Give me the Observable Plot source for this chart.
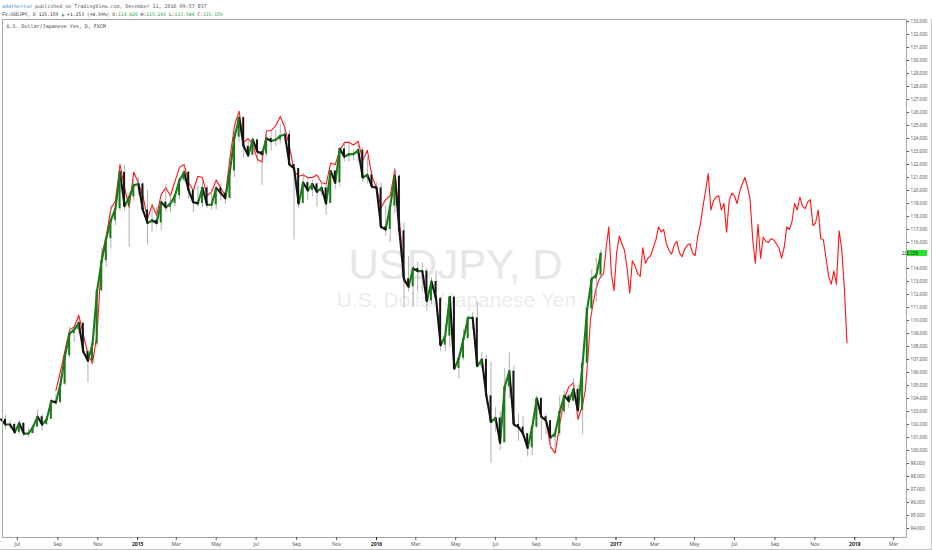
<!DOCTYPE html>
<html><head><meta charset="utf-8">
<script src="https://cdn.jsdelivr.net/npm/d3@7"></script>
<script src="https://cdn.jsdelivr.net/npm/@observablehq/plot@0.6"></script>
<style>
body{margin:0;background:#fff;}
#wrap{position:relative;width:932px;height:550px;overflow:hidden;background:#fff;}
#wrap svg{display:block;}
#outer{position:absolute;left:0;top:19px;width:931px;height:530px;border-right:1px solid #c4c4c4;border-bottom:1px solid #c4c4c4;pointer-events:none;}
</style></head><body><div id="wrap"><div id="outer"></div></div>
<script>
// ---------- DATA ----------
// weekly USD/JPY candles, week ending Friday, first week ending 2014-06-13
const candleFirstWeek = "2014-06-13";
const candleFirstOpen = 102.4;
const candleClose = [
102.0,102.0,101.4,102.1,101.3,101.3,101.8,102.6,102.0,102.4,103.8,103.7,105.1,107.3,109.0,109.3,109.8,107.6,106.9,108.2,112.3,114.6,116.3,117.7,118.6,121.4,118.8,119.5,120.4,
120.5,118.5,117.5,117.7,117.5,119.1,118.7,119.0,119.6,120.8,121.4,120.0,119.1,119.0,120.2,118.9,118.9,120.2,119.8,119.4,121.5,124.1,125.6,123.4,122.7,123.9,123.0,122.8,124.0,123.8,123.9,124.2,124.3,122.0,121.7,119.0,120.6,120.0,120.5,119.9,120.2,119.0,121.5,120.6,123.2,122.6,122.8,122.8,123.1,121.0,121.2,120.3,
120.2,117.2,117.0,118.8,121.1,116.9,113.2,112.6,114.0,113.8,113.8,111.5,113.0,111.7,108.1,108.8,111.8,106.3,107.1,108.6,110.2,110.2,106.5,107.0,104.2,102.2,102.5,100.6,104.9,106.1,102.0,101.8,101.3,100.2,101.8,104.0,102.6,102.3,101.0,101.3,103.0,104.2,103.8,104.7,103.1,106.7,110.9,113.2,113.5,115.159];
const candleHigh = [
102.7,102.3,102.1,102.3,102.0,101.7,102.0,103.1,102.8,102.6,104.0,104.3,105.7,107.4,109.5,109.5,110.1,109.2,107.9,108.4,112.5,115.6,116.8,118.9,118.8,121.7,121.9,119.8,120.8,
121.0,120.6,120.0,118.9,118.7,119.2,120.5,119.7,119.7,120.9,122.0,121.5,120.1,120.4,120.8,120.4,120.1,120.3,120.5,120.0,121.8,124.5,125.9,125.7,124.0,124.1,123.7,123.0,124.5,124.5,124.6,125.1,125.3,124.6,122.0,121.7,121.3,120.9,120.8,120.6,120.6,120.4,121.5,121.5,123.3,123.6,123.8,123.1,123.7,123.3,122.6,121.5,
120.6,120.6,118.8,118.9,121.7,121.2,117.5,114.9,114.2,114.5,114.4,114.0,113.3,113.8,111.8,109.7,111.9,111.9,107.5,109.3,110.4,110.6,111.4,107.5,107.3,106.8,103.3,103.0,106.3,107.5,106.5,102.8,102.6,101.3,102.0,104.2,104.1,102.8,102.3,101.7,104.2,104.6,104.4,105.5,105.0,106.9,111.0,113.9,114.8,115.4];
const candleLow = [
101.6,101.6,101.3,101.2,101.1,101.0,101.3,101.8,101.5,101.9,102.4,103.5,103.6,105.0,107.1,108.3,108.9,107.5,105.2,106.6,107.9,112.2,114.1,115.5,117.3,118.4,118.4,115.6,119.2,
119.6,118.2,115.8,116.8,117.2,116.9,118.3,118.3,118.7,119.3,120.6,119.3,118.3,118.7,118.7,118.6,118.5,118.5,119.2,118.9,119.3,121.0,123.7,122.5,122.5,122.7,122.1,120.4,122.6,123.0,123.4,123.6,123.8,121.9,116.2,118.6,119.0,119.2,119.5,118.7,119.6,118.1,119.1,120.1,120.3,122.2,122.2,122.3,122.2,120.6,120.5,120.1,
120.0,117.0,116.5,116.0,118.2,116.5,111.0,112.2,111.0,112.2,112.2,110.7,111.2,111.4,107.6,107.6,107.9,106.2,105.5,106.9,108.7,109.3,106.4,106.3,103.6,99.0,101.4,100.0,100.6,104.0,101.9,100.7,101.0,99.5,99.6,101.7,100.8,101.2,100.1,100.1,101.1,102.8,103.2,103.7,102.6,101.2,106.4,110.5,111.4,113.2];

// red overlay line: weekly from 2014-08-29 ...
const redPastFirst = "2014-08-29";
const redPast = [
104.6,106.1,107.7,109.3,109.5,110.4,108.9,107.4,106.7,109.0,115.0,116.5,118.6,119.2,122.0,120.2,118.7,121.4,
120.6,119.6,117.8,118.9,118.1,119.7,120.2,119.6,120.7,121.8,122.0,120.6,120.0,121.1,121.0,119.6,119.9,120.8,120.2,119.6,122.5,125.0,126.1,123.7,124.0,123.5,122.4,122.2,124.6,124.6,125.0,125.7,124.8,123.4,121.5,121.1,121.2,121.0,121.0,121.2,120.6,120.5,122.1,122.0,123.1,123.7,123.7,123.5,123.8,122.3,123.1,121.1,
120.2,118.7,119.3,119.6,121.6,117.8,113.0,112.6,114.0,113.8,113.8,111.5,113.0,111.7,108.1,108.8,111.8,106.3,107.1,108.6,110.2,110.2,106.5,107.0,104.2,102.2,102.5,100.6,104.9,106.1,102.0,101.8,101.3,100.2,101.8,104.0,102.6,102.3,100.3,99.8,102.0,104.0,104.9,105.2,102.4,103.5];
// ... then every 4 days from 2016-11-15 to mid-December 2017
const redFutureFirst = "2016-11-15";
const redFutureStepDays = 4;
const redFuture = [
104.6,107.0,110.1,111.3,112.3,113.0,113.4,113.6,115.6,117.2,113.6,112.3,115.2,116.5,115.9,115.4,114.0,112.1,114.6,114.2,
113.6,113.4,115.6,114.4,114.8,115.0,115.6,116.2,117.2,116.8,117.0,115.9,115.4,115.1,115.8,116.1,115.2,114.9,115.5,115.8,
115.9,115.2,115.0,116.5,117.4,118.8,120.0,121.3,118.5,119.2,119.5,119.6,118.5,119.0,116.8,119.2,119.8,119.6,119.0,119.9,
120.5,121.0,120.3,119.3,116.2,114.4,117.4,114.8,116.4,116.1,116.0,116.3,116.2,115.9,115.6,114.8,115.6,117.2,117.0,117.6,
119.0,118.5,119.5,118.8,118.6,119.1,119.3,117.3,117.5,118.5,116.3,116.2,114.8,113.4,112.8,113.8,112.8,116.9,115.5,112.5,108.3];

// price-axis ticks (115.000 sits under the last-price label, so it is not listed)
const yTicks = [94,95,96,97,98,99,100,101,102,103,104,105,106,107,108,109,110,111,112,113,114,116,117,118,119,120,121,122,123,124,125,126,127,128,129,130,131,132,133];
const monthTicks = ["2014-07-01","2014-09-01","2014-11-01","2015-03-01","2015-05-01","2015-07-01","2015-09-01","2015-11-01","2016-03-01","2016-05-01","2016-07-01","2016-09-01","2016-11-01","2017-03-01","2017-05-01","2017-07-01","2017-09-01","2017-11-01","2018-03-01"];
const yearTicks = ["2015-01-01","2016-01-01","2017-01-01","2018-01-01"];
const lastPrice = 115.159;

const headLine1 = [["adatherton","#3d8fd8"], [" published on TradingView.com, December 11, 2016 09:57 EST","#555"]];
const headLine2 = [["FX:USDJPY, D 115.159 ","#333"],["\u25B2","#3aa63a"],[" +1.153 (+0.99%) ","#333"],["O:","#333"],["114.026","#3aa63a"],[" H:","#333"],["115.269","#3aa63a"],[" L:","#333"],["113.904","#3aa63a"],[" C:","#333"],["115.159","#3aa63a"]];
const paneTitle = "U.S. Dollar/Japanese Yen, D, FXCM";
const watermark = ["USDJPY, D", "U.S. Dollar/Japanese Yen"];

// ---------- BUILD ----------
const DAY = 864e5;
const d0 = s => new Date(s + "T00:00:00Z");
const candles = candleClose.map((c, i) => ({
  date: new Date(+d0(candleFirstWeek) + i * 7 * DAY),
  prevDate: new Date(+d0(candleFirstWeek) + (i - 1) * 7 * DAY),
  open: i ? candleClose[i - 1] : candleFirstOpen,
  close: c, high: candleHigh[i], low: candleLow[i]
}));
const red = redPast.map((v, i) => ({date: new Date(+d0(redPastFirst) + i * 7 * DAY), value: v}))
  .concat(redFuture.map((v, i) => ({date: new Date(+d0(redFutureFirst) + i * redFutureStepDays * DAY), value: v})));

const up = candles.filter(d => d.close >= d.open);
const down = candles.filter(d => d.close < d.open);
const bodyX1 = d => new Date(+d.date - 1.5 * DAY);
const bodyX2 = d => new Date(+d.date + 1.5 * DAY);
const GREEN = "#1a7a1a", BLACK = "#141414";

// header (monospace, one text element per coloured run)
const MONO = "DejaVu Sans Mono, monospace";
const head = d3.create("svg").attr("width", 932).attr("height", 19);
function headLine(parts, y, size) {
  let x = 2;
  const cw = size * 0.602;
  parts.forEach(([s, c]) => {
    head.append("text").attr("x", x).attr("y", y).attr("font-size", size).attr("font-family", MONO)
      .attr("fill", c).attr("xml:space", "preserve").style("white-space", "pre").text(s);
    x += s.length * cw;
  });
}
headLine(headLine1, 8, 5);
headLine(headLine2, 16, 4.7);

const chart = Plot.plot({
  width: 932, height: 531,
  marginLeft: 2, marginRight: 26, marginTop: 0, marginBottom: 13,
  style: {background: "#fff", overflow: "visible"},
  x: {type: "utc", domain: [new Date("2014-06-08T09:36:00Z"), new Date("2018-03-21T00:00:00Z")]},
  y: {domain: [93.31, 133.154]},
  marks: [
    Plot.text([watermark[0]], {frameAnchor: "middle", dx: 1, dy: -13, fontSize: 42, fill: "#e7e7e7", fontFamily: "Liberation Sans, Arial, sans-serif"}),
    Plot.text([watermark[1]], {frameAnchor: "middle", dx: 2, dy: 22, fontSize: 21, fill: "#ececec", fontFamily: "Liberation Sans, Arial, sans-serif"}),
    Plot.text([paneTitle], {frameAnchor: "top-left", dx: 4, dy: 5, fontSize: 5, fill: "#444", fontFamily: MONO}),
    Plot.line(red, {x: "date", y: "value", stroke: "#ff1515", strokeWidth: 1.1}),
    Plot.ruleX(candles, {x: "date", y1: "low", y2: "high", stroke: "#8f8f8f", strokeWidth: 0.7}),
    Plot.link(up.filter(d => d !== candles[0]), {x1: "prevDate", y1: "open", x2: "date", y2: "close", stroke: GREEN, strokeWidth: 2.1, strokeLinecap: "round"}),
    Plot.link(down, {x1: "prevDate", y1: "open", x2: "date", y2: "close", stroke: BLACK, strokeWidth: 2.1, strokeLinecap: "round"}),
    Plot.rect(up, {x1: bodyX1, x2: bodyX2, y1: "open", y2: "close", fill: GREEN}),
    Plot.rect(down, {x1: bodyX1, x2: bodyX2, y1: "open", y2: "close", fill: BLACK}),
    Plot.frame({stroke: "#a6a6a6"}),
    Plot.axisY({anchor: "right", ticks: yTicks, tickFormat: d3.format(".3f"), tickSize: 2, tickPadding: 2, fontSize: 4.6, color: "#555", label: null}),
    Plot.axisX({ticks: monthTicks.map(d0), tickFormat: d3.utcFormat("%b"), tickSize: 3, tickPadding: 2, fontSize: 5, color: "#555", label: null}),
    Plot.axisX({ticks: yearTicks.map(d0), tickFormat: d3.utcFormat("%Y"), tickSize: 3, tickPadding: 2, fontSize: 5, fontWeight: "bold", color: "#222", label: null})
  ]
});

// last price label on the price axis, placed with the chart's own y scale
const py = chart.scale("y").apply(lastPrice);
const svg = d3.select(chart);
svg.append("rect").attr("x", 907).attr("y", py - 3).attr("width", 20).attr("height", 6).attr("fill", "#2ee02e");
svg.append("text").attr("x", 910).attr("y", py).attr("dy", "0.35em").attr("font-size", 4.6)
  .attr("font-family", "sans-serif").attr("fill", "#0a3a0a").text(d3.format(".3f")(lastPrice));

const wrap = document.getElementById("wrap");
wrap.insertBefore(head.node(), wrap.firstChild);
wrap.insertBefore(chart, document.getElementById("outer"));
</script>
</body></html>
